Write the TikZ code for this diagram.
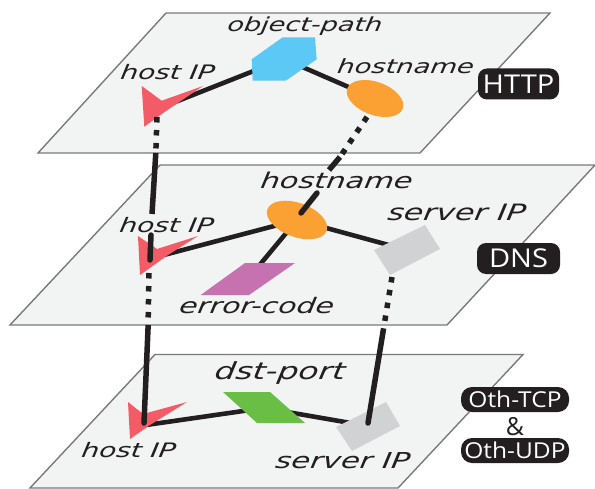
\documentclass[tikz,border=0pt]{standalone}
\usepackage{fontspec}
\setmainfont{DejaVu Sans}
\newfontfamily\pillfont{Open Sans}
\newcommand{\wideA}[1]{\scalebox{1.12}[1]{#1}}
\begin{document}
\begin{tikzpicture}[x=1bp,y=-1bp,
  plane/.style={draw=black!52,fill=planefill,line width=1.4bp,line join=miter},
  link/.style={draw=linkblack,line width=4.6bp},
  vsolid/.style={draw=linkblack,line width=5.5bp,line cap=round},
  vdash/.style={draw=linkblack,line width=5.5bp,dash pattern=on 5.5bp off 7.5bp},
  lab/.style={font=\fontsize{20}{24}\selectfont\itshape,text=linkblack,inner sep=0pt,xscale=1.4,xslant=0.1,transform shape},
  pill/.style={fill=linkblack,rounded corners=9bp,text=white,font=\pillfont\fontsize{26}{30}\selectfont,inner sep=0pt,text height=18.5bp,text depth=0pt},
  pillb/.style={fill=linkblack,rounded corners=11bp,text=white,font=\pillfont\fontsize{22}{26}\selectfont,inner sep=0pt,text height=16bp,text depth=0pt},
  redshape/.style={fill=hostred},
  greyshape/.style={fill=servergrey}
]
\definecolor{planefill}{HTML}{F2F4F3}
\definecolor{linkblack}{HTML}{231F20}
\definecolor{hostred}{HTML}{F35B66}
\definecolor{nameorange}{HTML}{FBA033}
\definecolor{servergrey}{HTML}{D0D2D3}
\definecolor{pathblue}{HTML}{5CC8F5}
\definecolor{codepurple}{HTML}{C671B0}
\definecolor{portgreen}{HTML}{6ABD45}
\useasboundingbox (0,0) rectangle (595,489);

% planes
\draw[plane] (38,153) -- (166,13) -- (550,13) -- (420,153) -- cycle;
\draw[plane] (10,325) -- (160,165) -- (595,165) -- (447,325) -- cycle;
\draw[plane] (30,488) -- (155,354.5) -- (523,354.5) -- (398,488) -- cycle;

% anchors
\coordinate (hostA) at (165,106);
\coordinate (pathA) at (284,59);
\coordinate (hostB) at (160,256);
\coordinate (codeB) at (248,279);
\coordinate (servB) at (407,250);
\coordinate (hostC) at (146,425);
\coordinate (portC) at (264,408);
\coordinate (servC) at (368,426);
\coordinate (vA1) at (157,117);
\coordinate (vA2) at (155.8,153);
\coordinate (vA3) at (152,214);
\coordinate (vB1) at (151,235);
\coordinate (vB2) at (150,260);
\coordinate (vB3) at (149,273);
\coordinate (vB4) at (148,329);
\coordinate (vC1) at (144,423);
\coordinate (nA1) at (367,117);
\coordinate (nA2) at (340,157);
\coordinate (nB1) at (329,170);
\coordinate (nB2) at (317,193);
\coordinate (nB3) at (301,213);
\coordinate (sB1) at (392,277);
\coordinate (sB2) at (383,332);
\coordinate (sC1) at (368,423);
\coordinate (nameA) at (375,98.5);
\coordinate (nameB) at (297,220);

% links behind shapes
\draw[link] (hostA) -- (pathA);
\draw[link] (pathA) -- (nameA);
\draw[link] (hostB) -- (nameB);
\draw[link] (nameB) -- (servB);
\draw[link] (nameB) -- (codeB);
\draw[link] (hostC) -- (portC);
\draw[link] (portC) -- (servC);

% shapes
\fill[redshape] (141.7,86) -- (161.7,100.7) -- (203,86) -- (165,111.7) -- (144.3,126.7) -- cycle;
\fill[pathblue] (282.7,37.3) -- (315,37.3) -- (316.7,59.3) -- (285.7,80.7) -- (252.7,80.7) -- (251.7,59.3) -- cycle;
\fill[nameorange,rotate around={-20:(nameA)}] (nameA) ellipse [x radius=29.5bp,y radius=16.5bp];

\fill[redshape] (138,236) -- (157,249) -- (198,236) -- (168,255) -- (140,275) -- cycle;
\fill[nameorange,rotate around={-20:(nameB)}] (nameB) ellipse [x radius=31.5bp,y radius=17bp];
\fill[codepurple] (245,263) -- (295,263) -- (249,295) -- (200.7,295) -- cycle;
\fill[greyshape] (425,225) -- (440,249) -- (390,275) -- (374,250) -- cycle;

\fill[redshape] (128,402) -- (143,414) -- (187,402) -- (150,425) -- (130,439) -- cycle;
\fill[portgreen] (223,392) -- (270,392) -- (305,423) -- (257,423) -- cycle;
\fill[greyshape] (386,402) -- (400,426) -- (352,451) -- (336,427) -- cycle;

% vertical links
\draw[vdash] (vA1) -- (vA2);
\draw[vsolid,line cap=butt] (vA2) -- (vA3);
\draw[vsolid] (vB1) -- (vB2);
\draw[vdash] (vB3) -- (vB4);
\draw[vsolid] (vB4) -- (vC1);
\draw[vdash] (nA1) -- (nA2);
\draw[vsolid,line cap=butt] (nA2) -- (nB1);
\draw[vsolid] (nB2) -- (nB3);
\draw[vdash] (sB1) -- (sB2);
\draw[vsolid] (sB2) -- (sC1);

% labels
\node[lab] (l1) at (168,72) {host IP};
\node[lab,scale=0.97] (l2) at (305,26) {object-path};
\node[lab,scale=0.98] (l3) at (406,66) {hostname};
\node[lab] (l4) at (167,225) {host IP};
\node[lab,scale=1.09] (l5) at (337,180) {hostname};
\node[lab,scale=1.13] (l6) at (457,212) {server IP};
\node[lab,scale=1.07] (l7) at (257,306) {error-code};
\node[lab,scale=1.18] (l8) at (280,373) {dst-port};
\node[lab] (l9) at (129,450) {host IP};
\node[lab,scale=1.1] (l10) at (343,461) {server IP};

% protocol pills
\node[pill,minimum width=81bp,minimum height=31bp] (http) at (518.5,84) {\wideA{HTTP}};
\node[pill,minimum width=83bp,minimum height=31bp] (dns) at (518.5,258.5) {\wideA{DNS}};
\node[pillb,minimum width=108bp,minimum height=25bp] (tcp) at (515,399.5) {\wideA{Oth-TCP}};
\node[font=\pillfont\fontsize{25}{28}\selectfont,text=linkblack,inner sep=0pt] (amp) at (515,427) {\&};
\node[pillb,minimum width=108bp,minimum height=25bp] (udp) at (515,450.5) {\wideA{Oth-UDP}};
\end{tikzpicture}
\end{document}
